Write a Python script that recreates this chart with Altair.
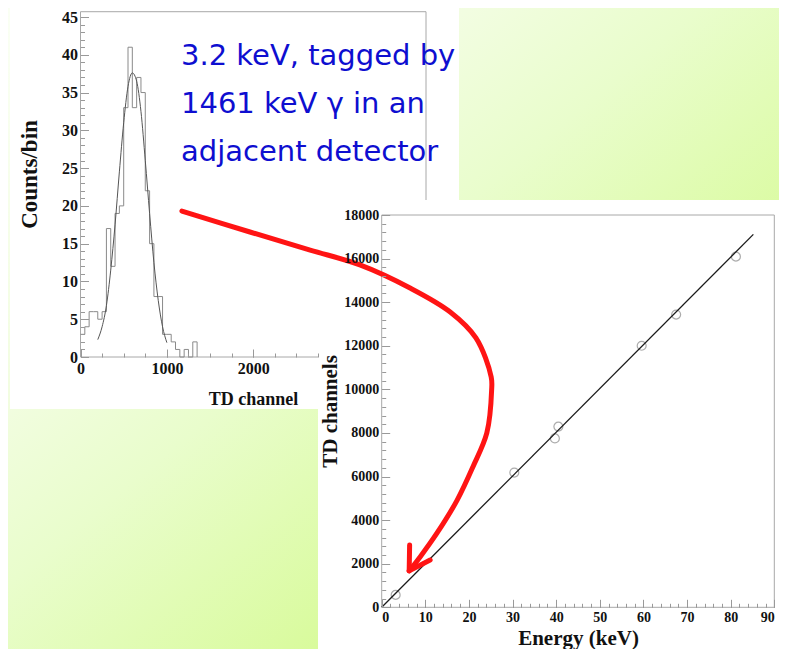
import altair as alt
import pandas as pd

# ---- left panel: TD spectrum of the tagged 3.2 keV line (50-channel bins)
bin_lo = list(range(0, 1400, 50))
bin_counts = [3, 4, 6, 6, 5, 6, 17, 12, 19, 20, 33, 41, 33, 37, 35, 22, 15, 8, 8,
              3, 3, 2, 1, 0, 1, 0, 2, 0]

# gaussian fit curve
fit_ch = [200, 250, 300, 350, 400, 450, 500, 550, 600, 650, 700, 750, 800, 850,
          900, 950, 1000]
fit_counts = [2.3, 4.0, 6.8, 11.5, 17.5, 24.5, 31.0, 35.8, 37.6, 36.5, 32.5, 26.0,
              19.0, 12.5, 7.5, 4.0, 1.9]

# ---- right panel: energy calibration
energy_kev = [3.2, 30.4, 39.7, 40.5, 59.6, 67.5, 81.2]
td_channels = [570, 6180, 7750, 8290, 12000, 13430, 16090]
line_kev = [0, 85.2]
line_td = [0, 17110]

# red arrow, in the units of the right panel (keV, TD channels)
arrow_kev = [-45.8, -30.2, -16.4, -5.0, 6.5, 15.7, 21.6, 25.1, 25.2, 24.1, 20.9,
             17.3, 12.7, 8.8, 6.3]
arrow_td = [18180, 17220, 16390, 15710, 14650, 13550, 12360, 10570, 9970, 8000,
            6440, 4920, 3410, 2310, 1670]
head_kev = [6.4, 6.3, 11.1]
head_td = [2860, 1670, 2170]

note_lines = ["3.2 keV, tagged by", "1461 keV \u03b3 in an", "adjacent detector"]

# tick values
left_x_labels = [0, 1000, 2000]
left_x_minor = [250 * i for i in range(12)]
left_y_labels = list(range(0, 50, 5))
left_y_minor = list(range(0, 46))
right_x_labels = list(range(0, 100, 10))
right_x_minor = list(range(0, 92, 2))
right_y_labels = list(range(0, 20000, 2000))
right_y_minor = list(range(0, 18400, 400))

W, H = 771, 641
SERIF = "Liberation Serif"
SANS = "DejaVu Sans"

one = pd.DataFrame({"k": [0]})

lx = alt.Scale(domain=[0, 4000], range=[72.5, 418], nice=False, zero=False)
ly = alt.Scale(domain=[0, 45], range=[349, 9], nice=False, zero=False)
rx = alt.Scale(domain=[0, 90], range=[373.7, 766.3], nice=False, zero=False)
ry = alt.Scale(domain=[0, 18000], range=[599.3, 207], nice=False, zero=False)


def label_axis(orient, offset, values, size, pad, title, tsize, tx, ty, flush=False):
    vertical = orient == "left"
    return alt.Axis(
        orient=orient, offset=offset, values=values, format="d",
        ticks=False, tickSize=0, domain=False, grid=False,
        labelFont=SERIF, labelFontWeight="bold", labelFontSize=size,
        labelColor="#111", labelPadding=pad, labelFlush=flush, labelOverlap=False,
        title=title, titleFont=SERIF, titleFontWeight="bold", titleFontSize=tsize,
        titleColor="#111", titleX=tx, titleY=ty, titleAlign="center",
        titleAngle=270 if vertical else 0,
        titleBaseline="middle" if vertical else "alphabetic",
        zindex=1,
    )


def tick_axis(orient, offset, values, size):
    return alt.Axis(
        orient=orient, offset=offset, values=values, labels=False, domain=False,
        grid=False, tickSize=size, tickColor="#999", tickWidth=1, title="",
        zindex=1,
    )


# ---- backgrounds
grad = alt.LinearGradient(
    gradient="linear",
    stops=[
        alt.GradientStop(color="#fafff4", offset=0),
        alt.GradientStop(color="#f2fde1", offset=0.3),
        alt.GradientStop(color="#e9fdcc", offset=0.45),
        alt.GradientStop(color="#dafba0", offset=0.68),
        alt.GradientStop(color="#c6f868", offset=1),
    ],
    x1=0, y1=0, x2=1, y2=1,
)
bg = alt.Chart(one).mark_rect(fill=grad).encode(
    x=alt.value(0), x2=alt.value(W), y=alt.value(0), y2=alt.value(H)
)
left_panel = alt.Chart(one).mark_rect(fill="white").encode(
    x=alt.value(2), x2=alt.value(451), y=alt.value(0), y2=alt.value(401)
)
right_panel = alt.Chart(one).mark_rect(fill="white").encode(
    x=alt.value(310), x2=alt.value(W), y=alt.value(192), y2=alt.value(H)
)

# ---- left plot
hist_df = pd.DataFrame({"ch": bin_lo, "n": bin_counts})
fit_df = pd.DataFrame({"ch": fit_ch, "n": fit_counts})

left_frame = alt.Chart(one).mark_rect(filled=False, stroke="#a8a8a8", strokeWidth=1).encode(
    x=alt.XDatum(0, type="quantitative", scale=lx,
                 axis=tick_axis("top", -349, left_x_labels, 8)),
    x2=alt.X2Datum(4000),
    y=alt.YDatum(0, type="quantitative", scale=ly,
                 axis=tick_axis("right", 72.5 - W, left_y_labels, 8)),
    y2=alt.Y2Datum(45.7),
)
hist = alt.Chart(hist_df).mark_line(
    interpolate="step-after", color="#8a8a8a", strokeWidth=1
).encode(
    x=alt.X("ch:Q", scale=lx,
            axis=label_axis("bottom", 349 - H, left_x_labels, 16, 3,
                            "TD channel", 18, 245, 47)),
    y=alt.Y("n:Q", scale=ly,
            axis=label_axis("left", -72.5, left_y_labels, 16, 3,
                            "Counts/bin", 23, -51, 166)),
)
fit = alt.Chart(fit_df).mark_line(color="#555", strokeWidth=1, interpolate="monotone").encode(
    x=alt.X("ch:Q", scale=lx, axis=tick_axis("top", -349, left_x_minor, 4)),
    y=alt.Y("n:Q", scale=ly, axis=tick_axis("right", 72.5 - W, left_y_minor, 4)),
)
left_plot = alt.layer(left_frame, hist, fit).resolve_axis(x="independent", y="independent")

note = alt.Chart(one).mark_text(
    align="left", baseline="alphabetic", font=SANS, fontSize=29,
    lineHeight=48, color="#0e0ed0",
).encode(x=alt.value(173), y=alt.value(57), text=alt.value(note_lines))

# ---- right plot
pts_df = pd.DataFrame({"e": energy_kev, "td": td_channels})
line_df = pd.DataFrame({"e": line_kev, "td": line_td})
arrow_df = pd.DataFrame({"e": arrow_kev, "td": arrow_td, "i": range(len(arrow_kev))})
head_df = pd.DataFrame({"e": head_kev, "td": head_td, "i": range(len(head_kev))})

right_frame = alt.Chart(one).mark_rect(filled=False, stroke="#a8a8a8", strokeWidth=1).encode(
    x=alt.XDatum(0, type="quantitative", scale=rx,
                 axis=tick_axis("top", -599.3, right_x_labels, 8)),
    x2=alt.X2Datum(90),
    y=alt.YDatum(0, type="quantitative", scale=ry,
                 axis=tick_axis("right", 373.7 - W, right_y_labels, 8)),
    y2=alt.Y2Datum(18000),
)
pts = alt.Chart(pts_df).mark_point(
    shape="circle", filled=False, color="#8a8a8a", size=80, strokeWidth=1.2
).encode(
    x=alt.X("e:Q", scale=rx,
            axis=label_axis("bottom", 599.3 - H, right_x_labels, 14, 3,
                            "Energy (keV)", 21, 570, 37.5, flush=True)),
    y=alt.Y("td:Q", scale=ry,
            axis=label_axis("left", -373.7, right_y_labels, 14, 3,
                            "TD channels", 21, -51, 403)),
)
cal_line = alt.Chart(line_df).mark_line(color="#1a1a1a", strokeWidth=1.3).encode(
    x=alt.X("e:Q", scale=rx, axis=tick_axis("top", -599.3, right_x_minor, 4)),
    y=alt.Y("td:Q", scale=ry, axis=tick_axis("right", 373.7 - W, right_y_minor, 4)),
)
arrow_style = dict(color="#ff1414", strokeWidth=5, strokeCap="round", strokeJoin="round")
arrow = alt.Chart(arrow_df).mark_line(interpolate="catmull-rom", **arrow_style).encode(
    x=alt.X("e:Q", scale=rx, axis=None),
    y=alt.Y("td:Q", scale=ry, axis=None),
    order=alt.Order("i:Q"),
)
head = alt.Chart(head_df).mark_line(**arrow_style).encode(
    x=alt.X("e:Q", scale=rx, axis=None),
    y=alt.Y("td:Q", scale=ry, axis=None),
    order=alt.Order("i:Q"),
)
right_plot = alt.layer(right_frame, pts, cal_line, arrow, head).resolve_axis(
    x="independent", y="independent"
)

chart = (
    alt.layer(bg, left_panel, left_plot, note, right_panel, right_plot)
    .resolve_scale(x="independent", y="independent")
    .properties(width=W, height=H, autosize=alt.AutoSizeParams(type="none"), padding=0)
    .configure_view(stroke="transparent")
)

chart.save("out.html", embed_options={"renderer": "svg", "actions": False})
